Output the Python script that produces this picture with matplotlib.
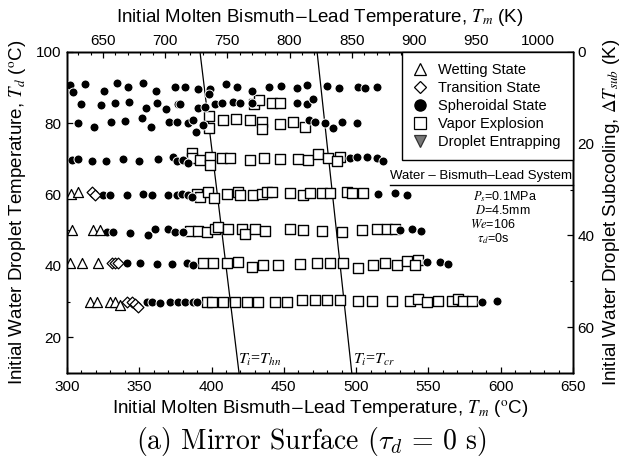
import matplotlib.pyplot as plt
from matplotlib.lines import Line2D
from matplotlib.ticker import MultipleLocator

plt.rcParams['font.family'] = ['Liberation Sans', 'DejaVu Sans']
plt.rcParams['mathtext.fontset'] = 'stix'

# Wetting state (open triangles)
wet_tm = [302.8, 307.8,
          303.3, 318.2, 322.8,
          302.1, 310.2, 321.6,
          315.9, 320.5, 329.7, 333.2, 336.7]
wet_td = [60.2, 60.8,
          50.0, 50.0, 50.0,
          40.8, 40.8, 40.8,
          30.0, 30.0, 30.0, 30.0, 29.1]

# Transition state (open diamonds)
trans_tm = [317.1, 319.4,
            330.9, 333.2, 335.5,
            341.3, 344.7, 347.0, 349.3]
trans_td = [60.8, 59.9,
            40.8, 40.8, 40.8,
            30.0, 30.0, 29.4, 28.6]

# Spheroidal state (filled circles), row by row from the top
sph_tm = [302.0, 304.4, 312.4, 325.8, 334.8, 342.4, 352.4, 361.3, 374.7, 381.6, 390.4, 398.9, 398.5,
          410.0, 417.4, 427.7, 439.9, 447.8, 459.3, 465.8, 479.6, 488.3, 501.5, 506.0, 514.2,
          309.5, 323.5, 333.2, 343.1, 354.6, 362.0, 368.5, 377.0, 378.5, 390.4, 395.4, 402.4, 407.4,
          415.0, 419.6, 427.7, 458.8, 465.8, 470.1,
          307.8, 318.9, 330.2, 340.1, 351.6, 357.9, 370.8, 375.9, 383.9, 386.9, 389.0, 394.3,
          467.6, 471.5, 478.4, 483.9, 489.9, 500.3,
          303.3, 307.8, 317.1, 326.8, 338.9, 349.8, 363.1, 373.5, 375.9, 380.4, 383.9,
          495.7, 500.3, 507.3, 514.2, 518.8,
          325.1, 329.7, 341.3, 352.8, 358.6, 370.1, 375.9, 379.3, 383.9, 386.2,
          515.3, 526.8, 534.9,
          327.5, 332.0, 343.6, 356.2, 360.9, 370.1, 374.7, 380.4,
          530.3, 538.4, 544.6,
          341.3, 350.5, 362.0, 372.4, 382.8, 387.3,
          548.8, 558.0, 563.7,
          355.1, 358.6, 364.3, 371.2, 377.0, 381.6, 387.3, 389.7,
          586.8, 597.2]
sph_td = [90.7, 88.9, 91.0, 89.1, 91.4, 90.3, 91.4, 89.1, 90.3, 90.3, 89.5, 89.5, 88.2,
          91.0, 90.3, 89.1, 90.3, 90.5, 89.8, 90.7, 90.4, 89.8, 90.3, 89.8, 90.3,
          85.3, 85.2, 85.8, 86.1, 84.2, 85.6, 84.0, 85.3, 85.4, 84.2, 84.5, 85.3, 85.8,
          86.1, 85.6, 85.6, 85.8, 85.3, 86.7,
          80.0, 79.1, 80.3, 80.6, 81.4, 79.1, 80.3, 80.3, 80.0, 80.9, 77.7, 79.6,
          80.9, 80.5, 80.2, 78.6, 80.5, 80.0,
          69.7, 70.0, 69.5, 69.5, 70.0, 69.5, 69.9, 70.6, 69.5, 69.7, 68.8,
          70.2, 70.6, 70.6, 70.2, 69.3,
          59.9, 59.9, 59.9, 60.3, 59.9, 59.9, 59.9, 60.3, 59.9, 59.4,
          60.2, 60.4, 60.0,
          49.6, 49.6, 49.2, 48.7, 50.5, 50.3, 49.6, 49.4,
          50.1, 50.5, 49.8,
          40.8, 40.8, 40.6, 40.6, 40.8, 40.4,
          41.2, 41.0, 40.6,
          30.0, 30.0, 29.7, 30.0, 30.0, 30.0, 30.0, 30.0,
          30.0, 30.2]

# Vapor explosion (open squares), row by row from the top
vap_tm = [429.5, 433.0, 441.5, 447.3,
          398.4, 398.4, 407.7, 416.9, 426.6, 434.6, 434.6, 447.3, 456.5, 464.6,
          386.2, 386.2, 392.0, 398.9, 398.9, 407.0, 412.7, 426.6, 436.2, 447.3, 460.0, 466.9,
          473.6, 480.5, 488.8, 486.5,
          389.7, 392.0, 397.7, 401.7, 410.4, 418.5, 419.6, 428.8, 434.6, 438.1, 441.6, 454.2,
          463.4, 468.0, 476.3, 481.9, 493.4, 496.9, 504.9,
          385.1, 390.8, 396.6, 402.4, 404.6, 411.6, 420.8, 423.1, 430.0, 436.9, 454.2, 463.4,
          476.1, 490.0, 503.8, 514.2, 521.1, 526.8,
          394.3, 401.2, 410.4, 418.5, 427.7, 435.8, 446.1, 461.1, 472.7, 481.9, 491.1, 501.5,
          511.8, 519.9, 528.0, 534.9, 543.0, 540.7,
          396.6, 400.1, 408.1, 416.2, 424.3, 432.3, 443.8, 451.9, 462.3, 471.5, 479.6, 488.8,
          501.5, 510.7, 524.5, 537.2, 543.0, 548.8, 556.8, 566.1, 570.6, 574.1, 579.9]
vap_td = [85.3, 86.6, 85.7, 85.7,
          82.1, 78.6, 80.9, 81.1, 80.9, 80.5, 78.4, 79.8, 80.3, 78.9,
          71.8, 70.3, 69.7, 70.6, 68.3, 70.3, 70.4, 69.8, 70.3, 70.1, 70.1, 69.6,
          71.3, 70.2, 70.6, 69.3,
          60.3, 59.4, 60.8, 59.0, 60.3, 60.8, 59.9, 59.9, 60.3, 60.8, 60.8, 60.5,
          59.9, 60.4, 60.4, 60.4, 60.8, 60.4, 60.4,
          49.9, 49.9, 49.6, 50.4, 51.0, 50.3, 50.5, 48.9, 50.3, 49.9, 50.3, 50.0,
          49.9, 49.6, 50.1, 50.5, 50.5, 50.5,
          40.8, 40.8, 40.8, 41.2, 39.8, 40.2, 40.2, 40.6, 40.8, 40.8, 40.8, 39.4,
          40.3, 40.8, 40.3, 41.3, 41.7, 40.3,
          30.0, 30.0, 30.0, 30.0, 30.0, 29.8, 30.0, 30.0, 30.4, 30.4, 30.4, 30.4,
          30.2, 30.2, 30.2, 30.2, 30.8, 29.8, 30.2, 30.2, 30.8, 30.2, 30.2]

# boundary lines T_i = T_hn and T_i = T_cr
hn_tm = [392, 419]
hn_td = [100, 10]
cr_tm = [473, 497]
cr_td = [100, 10]

x_ticks = [300, 350, 400, 450, 500, 550, 600, 650]
y_ticks = [20, 40, 60, 80, 100]
k_ticks = [650, 700, 750, 800, 850, 900, 950, 1000]
sub_ticks = [0, 20, 40, 60]

fig = plt.figure(figsize=(6.22, 4.70), dpi=100)
ax = fig.add_axes([0.1077, 0.2064, 0.8135, 0.6830])

ax.plot(hn_tm, hn_td, color='k', lw=0.9, zorder=2)
ax.plot(cr_tm, cr_td, color='k', lw=0.9, zorder=2)

ax.scatter(vap_tm, vap_td, s=60, marker='s', facecolors='white', edgecolors='k', linewidths=1.0, zorder=3)
ax.scatter(sph_tm, sph_td, s=42, marker='o', c='k', edgecolors='white', linewidths=0.7, zorder=4)
ax.scatter(wet_tm, wet_td, s=52, marker='^', facecolors='white', edgecolors='k', linewidths=0.9, zorder=5)
ax.scatter(trans_tm, trans_td, s=30, marker='D', facecolors='white', edgecolors='k', linewidths=0.9, zorder=5)

ax.set_xlim(300, 650)
ax.set_ylim(10, 100)
ax.set_xticks(x_ticks)
ax.set_yticks(y_ticks)
ax.xaxis.set_minor_locator(MultipleLocator(10))
ax.yaxis.set_minor_locator(MultipleLocator(10))
ax.tick_params(which='both', direction='in', top=False, right=False, labelsize=11)
ax.tick_params(which='major', length=4, width=0.9)
ax.tick_params(axis='x', which='major', pad=5)
ax.tick_params(axis='y', which='major', pad=4)
ax.tick_params(which='minor', length=2.5, width=0.8)

ax.set_xlabel(r'Initial Molten Bismuth$-$Lead Temperature, $T_m$ ($^{\rm o}$C)', fontsize=13.5)
ax.xaxis.set_label_coords(0.5, -0.08)
ax.set_ylabel(r'Initial Water Droplet Temperature, $T_d$ ($^{\rm o}$C)', fontsize=13.5)
ax.yaxis.set_label_coords(-0.075, 0.5)

ax.text(0.338, 0.04, r'$T_i$=$T_{hn}$', transform=ax.transAxes, fontsize=11.5,
        family=['Liberation Serif'], ha='left', va='center')
ax.text(0.565, 0.04, r'$T_i$=$T_{cr}$', transform=ax.transAxes, fontsize=11.5,
        family=['Liberation Serif'], ha='left', va='center')

# top axis in K
axt = ax.twiny()
axt.set_xlim(621, 1028)
axt.set_xticks(k_ticks)
axt.xaxis.set_minor_locator(MultipleLocator(10))
axt.tick_params(which='both', direction='in', labelsize=11)
axt.tick_params(which='major', length=4, width=0.9, pad=3)
axt.tick_params(which='minor', length=2.5, width=0.8)
axt.set_xlabel(r'Initial Molten Bismuth$-$Lead Temperature, $T_m$ (K)', fontsize=13.5)
axt.xaxis.set_label_coords(0.5, 1.093)

# right axis: subcooling
axr = ax.twinx()
axr.set_ylim(70, 0)
axr.set_yticks(sub_ticks)
axr.yaxis.set_minor_locator(MultipleLocator(10))
axr.tick_params(which='both', direction='in', labelsize=11)
axr.tick_params(which='major', length=4, width=0.9, pad=3)
axr.tick_params(which='minor', length=2.5, width=0.8)
axr.set_ylabel(r'Initial Water Droplet Subcooling, $\mathit{\Delta T}_{sub}$ (K)', fontsize=13.5)
axr.yaxis.set_label_coords(1.055, 0.5)

for a in (ax, axt, axr):
    for sp in a.spines.values():
        sp.set_linewidth(1.0)

handles = [
    Line2D([], [], ls='', marker='^', ms=8, mfc='white', mec='k', mew=0.9, label='Wetting State'),
    Line2D([], [], ls='', marker='D', ms=6, mfc='white', mec='k', mew=0.9, label='Transition State'),
    Line2D([], [], ls='', marker='o', ms=8, mfc='k', mec='k', label='Spheroidal State'),
    Line2D([], [], ls='', marker='s', ms=8, mfc='white', mec='k', mew=0.9, label='Vapor Explosion'),
    Line2D([], [], ls='', marker='v', ms=8, mfc='#777777', mec='#333333', mew=0.9, label='Droplet Entrapping'),
]
leg = axr.legend(handles=handles, loc='upper left', bbox_to_anchor=(0.662, 0.0, 0.338, 1.0),
                 mode='expand', borderaxespad=0, fancybox=False, edgecolor='k', framealpha=1,
                 fontsize=10.5, handlelength=1.0, handletextpad=0.7, borderpad=0.75, labelspacing=0.28)
leg.get_frame().set_linewidth(1.0)

axr.text(0.998, 0.614, 'Water \u2013 Bismuth\u2013Lead System', transform=ax.transAxes,
         fontsize=9.5, ha='right', va='center')
axr.plot([0.638, 1.0], [0.586, 0.586], transform=ax.transAxes, color='k', lw=1.0, clip_on=False)

# run conditions
axr.text(0.802, 0.550, r'$P_s$=0.1MPa', transform=ax.transAxes, fontsize=9, ha='left', va='center')
axr.text(0.806, 0.507, r'$D$=4.5mm', transform=ax.transAxes, fontsize=9, ha='left', va='center')
axr.text(0.796, 0.464, r'$We$=106', transform=ax.transAxes, fontsize=9, ha='left', va='center')
axr.text(0.810, 0.419, r'$\tau_d$=0s', transform=ax.transAxes, fontsize=9, ha='left', va='center')

fig.text(0.5, 0.06, r'(a) Mirror Surface ($\tau_d$ = 0 s)', fontfamily='cmr10', math_fontfamily='cm',
         fontsize=20, ha='center', va='center')

fig.savefig('out.png', dpi=100)
